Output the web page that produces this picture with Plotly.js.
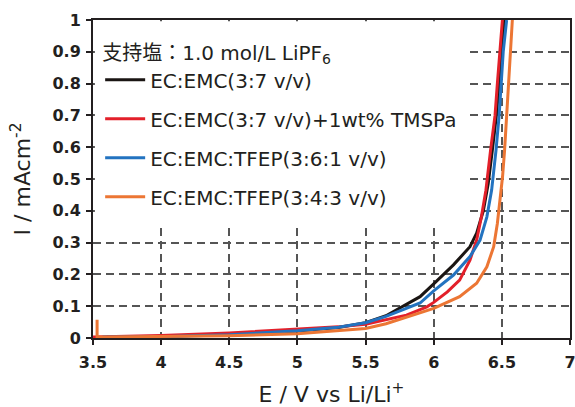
<!DOCTYPE html>
<html>
<head>
<meta charset="utf-8">
<script src="https://cdn.plot.ly/plotly-3.0.1.min.js"></script>
<style>html,body{margin:0;padding:0;background:#fff;}#chart{width:575px;height:407px;}</style>
</head>
<body>
<div id="chart"></div>
<script>
// Series names
const seriesNames = [
  "EC:EMC(3:7 v/v)",
  "EC:EMC(3:7 v/v)+1wt% TMSPa",
  "EC:EMC:TFEP(3:6:1 v/v)",
  "EC:EMC:TFEP(3:4:3 v/v)"
];
const legendTitle = "支持塩：1.0 mol/L LiPF<sub>6</sub>";

// EC:EMC (3:7) - black
const blackE = [3.6, 4.0, 4.5, 5.0, 5.3, 5.5, 5.65, 5.8, 5.9, 6.0, 6.145, 6.266, 6.315, 6.364, 6.40, 6.43, 6.46, 6.48, 6.50, 6.52];
const blackI = [0.003, 0.005, 0.012, 0.022, 0.033, 0.048, 0.07, 0.105, 0.13, 0.17, 0.23, 0.287, 0.33, 0.40, 0.486, 0.59, 0.7, 0.8, 0.9, 1.0];

// EC:EMC (3:7) + 1wt% TMSPa - red
const redE = [3.5, 4.0, 4.5, 4.87, 5.0, 5.3, 5.5, 5.65, 5.8, 5.95, 6.0, 6.1, 6.19, 6.266, 6.315, 6.35, 6.383, 6.417, 6.45, 6.467, 6.484, 6.504];
const redI = [0.003, 0.008, 0.016, 0.025, 0.028, 0.035, 0.043, 0.057, 0.072, 0.098, 0.112, 0.145, 0.182, 0.245, 0.308, 0.381, 0.465, 0.59, 0.7, 0.8, 0.9, 1.0];

// EC:EMC:TFEP (3:6:1) - blue
const blueE = [3.57, 4.0, 4.5, 4.87, 5.0, 5.3, 5.5, 5.65, 5.8, 5.9, 6.0, 6.145, 6.266, 6.34, 6.39, 6.425, 6.457, 6.48, 6.495, 6.51, 6.535];
const blueI = [0.003, 0.004, 0.01, 0.02, 0.023, 0.034, 0.048, 0.068, 0.093, 0.11, 0.148, 0.198, 0.256, 0.308, 0.381, 0.465, 0.59, 0.7, 0.8, 0.9, 1.0];

// EC:EMC:TFEP (3:4:3) - orange
const orangeE = [3.53, 3.53, 3.6, 4.0, 4.5, 5.0, 5.3, 5.5, 5.65, 5.8, 6.0, 6.19, 6.315, 6.39, 6.44, 6.467, 6.486, 6.505, 6.52, 6.535, 6.548, 6.56, 6.577];
const orangeI = [0.057, 0.003, 0.003, 0.004, 0.007, 0.013, 0.022, 0.03, 0.045, 0.065, 0.093, 0.13, 0.172, 0.224, 0.287, 0.36, 0.434, 0.507, 0.59, 0.7, 0.8, 0.9, 1.0];

// Axis ticks
const xTicks = [3.5, 4, 4.5, 5, 5.5, 6, 6.5, 7];
const xTickText = ["3.5", "4", "4.5", "5", "5.5", "6", "6.5", "7"];
const yTicks = [0, 0.1, 0.2, 0.3, 0.4, 0.5, 0.6, 0.7, 0.8, 0.9, 1];
const yTickText = ["0", "0.1", "0.2", "0.3", "0.4", "0.5", "0.6", "0.7", "0.8", "0.9", "1"];

const colors = ["#1a1513", "#e3202a", "#2373c0", "#ec7634"];
const xs = [blackE, redE, blueE, orangeE];
const ys = [blackI, redI, blueI, orangeI];

const traces = xs.map((x, i) => ({
  x: x, y: ys[i], type: "scatter", mode: "lines",
  name: seriesNames[i], legendgroup: "g" + i,
  line: {color: colors[i], width: 3, shape: "linear"}
}));

const fontFam = "'DejaVu Sans', 'Noto Sans CJK JP', sans-serif";
const ink = "#231f20";

const layout = {
  width: 575, height: 407,
  margin: {l: 93, r: 5, t: 20, b: 69},
  paper_bgcolor: "#fff", plot_bgcolor: "#fff",
  showlegend: true,
  shapes: [{
    type: "rect", xref: "paper", yref: "paper", layer: "above",
    x0: 0.004, x1: 0.79, y0: 0.36, y1: 0.996,
    fillcolor: "#fff", line: {width: 0}
  }],
  legend: {
    x: 0.015, y: 0.955, xanchor: "left", yanchor: "top",
    bgcolor: "rgba(255,255,255,0)", borderwidth: 0,
    font: {family: fontFam, size: 20, color: ink},
    title: {text: legendTitle, font: {family: fontFam, size: 20, color: ink}},
    tracegroupgap: 10, traceorder: "grouped",
    itemwidth: 40
  },
  xaxis: {
    range: [3.5, 7], tickvals: xTicks, ticktext: xTickText,
    showline: true, linecolor: ink, linewidth: 2, mirror: true,
    ticks: "outside", ticklen: 5, tickwidth: 2, tickcolor: ink,
    ticklabelstandoff: 4, ticklabeloverflow: "allow",
    showgrid: true, gridcolor: "#555", gridwidth: 2, griddash: "8px,5px",
    zeroline: false,
    tickfont: {family: fontFam, size: 16, color: ink, weight: "bold"},
    title: {text: "E / V vs Li/Li<sup>+</sup>", font: {family: fontFam, size: 22, color: ink}, standoff: 16}
  },
  yaxis: {
    range: [0, 1], tickvals: yTicks, ticktext: yTickText,
    showline: true, linecolor: ink, linewidth: 2, mirror: true,
    ticks: "outside", ticklen: 5, tickwidth: 2, tickcolor: ink,
    ticklabelstandoff: 2, ticklabeloverflow: "allow",
    showgrid: true, gridcolor: "#555", gridwidth: 2, griddash: "8px,5px",
    zeroline: false,
    tickfont: {family: fontFam, size: 16, color: ink, weight: "bold"},
    title: {text: "I / mAcm<sup>-2</sup>", font: {family: fontFam, size: 22, color: ink}, standoff: 16}
  }
};

Plotly.newPlot("chart", traces, layout, {staticPlot: true, displayModeBar: false});
</script>
</body>
</html>
